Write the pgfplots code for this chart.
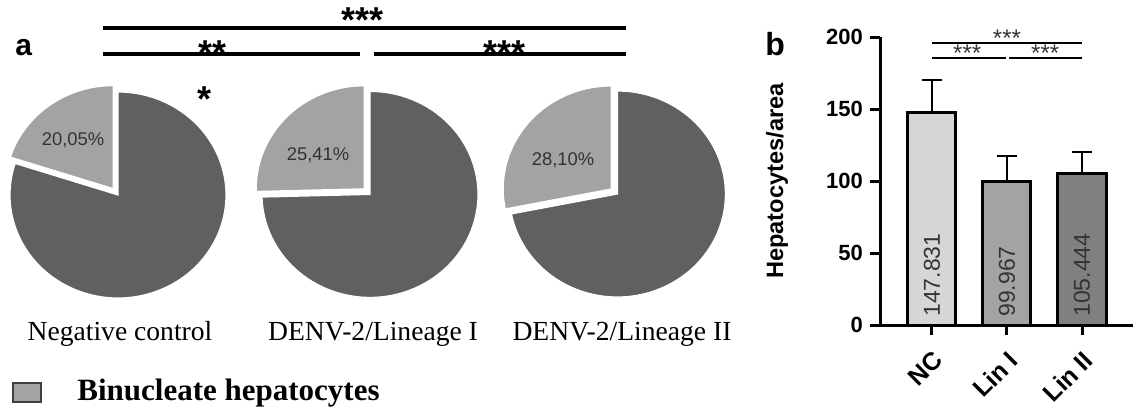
\documentclass[border=0pt]{standalone}
\usepackage{pgfplots}
\pgfplotsset{compat=1.18}
\usepgfplotslibrary{polar}
\usepackage{fontspec}
\setmainfont{Liberation Sans}
\newfontfamily\timesf{Liberation Serif}
\definecolor{slicegray}{RGB}{163,163,163}
\definecolor{slicedark}{RGB}{96,96,96}
\definecolor{barnc}{RGB}{214,214,214}
\definecolor{barla}{RGB}{163,163,163}
\definecolor{barlb}{RGB}{128,128,128}
\definecolor{txtgray}{RGB}{51,51,51}
\pgfplotsset{
  pie/.style={scale only axis, hide axis, width=108pt, height=103pt,
    scale mode=stretch to fill,
    xmin=0, xmax=360, ymin=0, ymax=1, clip=false, anchor=center, no marks},
  dark/.style={draw=white, line width=0.6pt, fill=slicedark, samples=120},
  light/.style={draw=white, line width=0.6pt, fill=slicegray, samples=40},
  errb/.style={error bars/.cd, y dir=plus, y explicit,
    error bar style={line width=1pt, black},
    error mark options={rotate=90, line width=1pt, mark size=5pt, black}},
}
\begin{document}
\begin{tikzpicture}
\begin{scope}[x=0.5pt,y=-0.5pt]
\useasboundingbox (0,0) rectangle (1141,409);
\end{scope}

% ---------- panel a: pies (binucleate hepatocytes, %) ----------
\begin{polaraxis}[pie, at={(59pt,-97.5pt)}]
\addplot[dark, domain=90+3.6*20.05:450] {1} -- (0,0) -- cycle;
\addplot[light, domain=90:90+3.6*20.05, xshift=-2.4pt, yshift=3.2pt] {1} -- (0,0) -- cycle;
\end{polaraxis}
\begin{polaraxis}[pie, at={(185pt,-97.2pt)}]
\addplot[dark, domain=90+3.6*25.41:450] {1} -- (0,0) -- cycle;
\addplot[light, domain=90:90+3.6*25.41, xshift=-2.9pt, yshift=2.8pt] {1} -- (0,0) -- cycle;
\end{polaraxis}
\begin{polaraxis}[pie, at={(308.7pt,-97pt)}]
\addplot[dark, domain=90+3.6*28.10:450] {1} -- (0,0) -- cycle;
\addplot[light, domain=90:90+3.6*28.10, xshift=-3.1pt, yshift=2.5pt] {1} -- (0,0) -- cycle;
\end{polaraxis}

% ---------- panel b: bars ----------
\begin{axis}[
  at={(440pt,-162.5pt)}, anchor=south west, scale only axis,
  width=126.5pt, height=144pt,
  xmin=-0.693, xmax=2.68, ymin=0, ymax=200,
  axis lines=left, axis line style={-, line width=1.5pt},
  ytick={0,50,100,150,200}, xtick={0,1,2}, xticklabels={NC,Lin I,Lin II},
  tick align=outside, major tick length=5pt, tick style={line width=1.5pt, black},
  yticklabel style={font=\bfseries\fontsize{11}{13}\selectfont},
  xticklabel style={font=\bfseries\fontsize{12.5}{14}\selectfont, rotate=45, anchor=north east,
    inner sep=1pt, yshift=-4pt, xshift=-4pt},
  /pgf/number format/assume math mode=true,
  ylabel={Hepatocytes/area},
  every axis y label/.style={at={(axis description cs:0,0.5)}, xshift=-51.5pt, rotate=90, anchor=center,
    font=\bfseries\fontsize{11.8}{14}\selectfont},
  ybar, bar width=0.64, bar shift=0pt,
  clip=false,
]
\addplot[fill=barnc, draw=black, line width=1.5pt, errb] coordinates {(0,147.831) +- (0,22.5)};
\addplot[fill=barla, draw=black, line width=1.5pt, errb] coordinates {(1,99.967) +- (0,17.7)};
\addplot[fill=barlb, draw=black, line width=1.5pt, errb] coordinates {(2,105.444) +- (0,15)};
\node[rotate=90, anchor=west, inner sep=0pt, text=txtgray, font=\fontsize{11.5}{13}\selectfont] at (axis cs:0,5.5) {147.831};
\node[rotate=90, anchor=west, inner sep=0pt, text=txtgray, font=\fontsize{11.5}{13}\selectfont] at (axis cs:1,5.5) {99.967};
\node[rotate=90, anchor=west, inner sep=0pt, text=txtgray, font=\fontsize{11.5}{13}\selectfont] at (axis cs:2,5.5) {105.444};
\draw[line width=1pt] (axis cs:0,196) -- (axis cs:2,196);
\draw[line width=1pt] (axis cs:0,185.6) -- (axis cs:0.99,185.6);
\draw[line width=1pt] (axis cs:1.03,185.6) -- (axis cs:2,185.6);
\node[anchor=base, inner sep=0pt, text=txtgray, font=\fontsize{12}{14}\selectfont] at (axis cs:1,193.5) {***};
\node[anchor=base, inner sep=0pt, text=txtgray, font=\fontsize{12}{14}\selectfont] at (axis cs:0.47,183) {***};
\node[anchor=base, inner sep=0pt, text=txtgray, font=\fontsize{12}{14}\selectfont] at (axis cs:1.51,183) {***};
\end{axis}

% ---------- annotations ----------
\begin{scope}[x=0.5pt,y=-0.5pt]
\node[anchor=base west, inner sep=0pt, font=\bfseries\fontsize{15}{17}\selectfont] at (15,55) {a};
\node[anchor=base west, inner sep=0pt, font=\bfseries\fontsize{16}{19}\selectfont] at (765,55) {b};
\draw[line width=2pt] (103,28) -- (626,28);
\draw[line width=2pt] (103,54) -- (360,54);
\draw[line width=2pt] (374,54) -- (626,54);
\node[anchor=base, inner sep=0pt, font=\bfseries\fontsize{18}{20}\selectfont] at (363,32) {***};
\node[anchor=base, inner sep=0pt, font=\bfseries\fontsize{18}{20}\selectfont] at (213,65) {**};
\node[anchor=base, inner sep=0pt, font=\bfseries\fontsize{18}{20}\selectfont] at (505,65) {***};
\node[anchor=base, inner sep=0pt, font=\bfseries\fontsize{18}{20}\selectfont] at (205,111) {*};
\node[text=txtgray, font=\fontsize{9.2}{11}\selectfont] at (73,140) {20,05\%};
\node[text=txtgray, font=\fontsize{9.2}{11}\selectfont] at (318,155) {25,41\%};
\node[text=txtgray, font=\fontsize{9.2}{11}\selectfont] at (563,160) {28,10\%};
\node[anchor=base, inner sep=0pt, font=\timesf\fontsize{13.8}{16}\selectfont] at (120,340) {Negative control};
\node[anchor=base, inner sep=0pt, font=\timesf\fontsize{13.8}{16}\selectfont] at (373,340) {DENV-2/Lineage I};
\node[anchor=base, inner sep=0pt, font=\timesf\fontsize{13.8}{16}\selectfont] at (622,340) {DENV-2/Lineage II};
\draw[fill=slicegray, draw=black!75, line width=0.8pt] (13,383) rectangle (41,402);
\node[anchor=base west, inner sep=0pt, font=\timesf\bfseries\fontsize{15.5}{18}\selectfont] at (77,400) {Binucleate hepatocytes};
\end{scope}
\end{tikzpicture}
\end{document}
